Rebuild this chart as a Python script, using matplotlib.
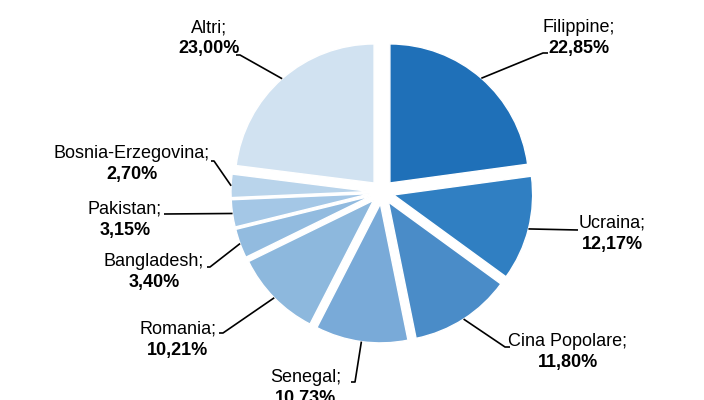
import numpy as np
import matplotlib.pyplot as plt

# data
countries = ['Filippine', 'Ucraina', 'Cina Popolare', 'Senegal', 'Romania',
             'Bangladesh', 'Pakistan', 'Bosnia-Erzegovina', 'Altri']
shares = [22.85, 12.17, 11.80, 10.73, 10.21, 3.40, 3.15, 2.70, 23.00]
colors = ['#1f70b8', '#307fc2', '#4a8cc8', '#79aad8', '#8db8dd',
          '#92bbdf', '#a4c7e6', '#b9d4eb', '#d1e2f1']

# layout (pixels from top-left of a 704x400 canvas)
CX, CY, R = 382, 192, 139
EXPL = 12
# label centre x, name line y, elbow point, end of leader
label_pos = [(579, 27), (612, 223), (568, 341), (306, 377), (178, 329),
             (154, 262), (125, 209), (132, 154), (209, 28)]
elbows = [(543, 53), (578, 230), (505, 347), (355, 382), (223, 333),
          (210, 267), (164, 214), (214, 161), (240, 55)]
ends = [(548, 53), (578, 230), (510, 347), (351, 382), (219, 333),
        (207, 267), (164, 214), (211, 161), (236, 55)]

plt.rcParams['font.family'] = ['Liberation Sans', 'DejaVu Sans']

fig = plt.figure(figsize=(7.04, 4.0), dpi=100)
ax = fig.add_axes([0, 0, 1, 1])

wedges, _ = ax.pie(shares, colors=colors, startangle=90, counterclock=False,
                   explode=[EXPL / R] * len(shares),
                   wedgeprops=dict(edgecolor='white', linewidth=1))

ax.set_xlim(-CX / R, (704 - CX) / R)
ax.set_ylim(-(400 - CY) / R, CY / R)
ax.set_aspect('equal')
ax.axis('off')


def px(p):
    return ((p[0] - CX) / R, (CY - p[1]) / R)


for w, name, val, lp, el, en in zip(wedges, countries, shares, label_pos, elbows, ends):
    mid = np.deg2rad((w.theta1 + w.theta2) / 2)
    sx = w.center[0] + w.r * np.cos(mid)
    sy = w.center[1] + w.r * np.sin(mid)
    e1, e2 = px(el), px(en)
    ax.plot([sx, e1[0], e2[0]], [sy, e1[1], e2[1]], color='black', lw=1.2,
            solid_capstyle='butt')
    tx, ty = px(lp)
    ax.text(tx, ty, name + ';', ha='center', va='center', fontsize=13)
    ty2 = px((lp[0], lp[1] + 21))[1]
    ax.text(tx, ty2, f'{val:.2f}%'.replace('.', ','), ha='center', va='center',
            fontsize=13, fontweight='bold')

fig.savefig('out.png', dpi=100)
